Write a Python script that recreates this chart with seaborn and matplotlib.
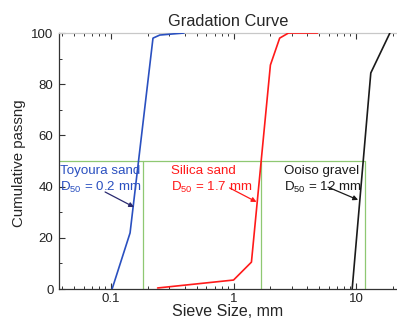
import matplotlib
matplotlib.use("Agg")
import matplotlib.pyplot as plt
import seaborn as sns
import pandas as pd
from matplotlib.ticker import LogLocator, MultipleLocator, FixedLocator, FixedFormatter

# Data
toyoura_size = [0.102, 0.143, 0.22, 0.25, 0.394]
toyoura_pass = [0.0, 21.9, 98.0, 99.2, 100.0]
silica_size = [0.24, 1.0, 1.40, 2.0, 2.38, 2.81, 4.85]
silica_pass = [0.4, 3.5, 10.5, 87.5, 98.0, 100.0, 100.0]
gravel_size = [9.3, 13.2, 18.9]
gravel_pass = [0.0, 84.4, 100.0]
d50_lines = [0.182, 1.69, 11.8]
series_names = ["Toyoura sand", "Silica sand", "Ooiso gravel"]
d50_labels = ["0.2", "1.7", "12"]
colors = ["#2a50c0", "#ff1a1a", "#1a1a1a"]

sns.set_style("ticks")
plt.rcParams["font.family"] = ["Liberation Sans", "DejaVu Sans"]
plt.rcParams["mathtext.default"] = "regular"

df = pd.concat([
    pd.DataFrame({"size": toyoura_size, "pass": toyoura_pass, "soil": series_names[0]}),
    pd.DataFrame({"size": silica_size, "pass": silica_pass, "soil": series_names[1]}),
    pd.DataFrame({"size": gravel_size, "pass": gravel_pass, "soil": series_names[2]}),
])

fig = plt.figure(figsize=(3.97, 3.20), dpi=100)
ax = fig.add_axes([59/397, 1-289/320, 1-59/397, (289-33)/320])
ax.set_xscale("log")
ax.set_xlim(0.0376, 21.6)
ax.set_ylim(0, 100)

# guide lines
green = "#8fc872"
ax.plot([0.0376, d50_lines[2]], [50, 50], color=green, lw=0.9, zorder=1)
for d in d50_lines:
    ax.plot([d, d], [0, 50], color=green, lw=0.9, zorder=1)

sns.lineplot(data=df, x="size", y="pass", hue="soil", palette=colors,
             sort=False, estimator=None, lw=1.2, legend=False, ax=ax, zorder=3)

# labels
text_pos = [(0.0385, 48.6), (0.306, 48.6), (2.56, 48.6)]
arrow_start = [(0.0894, 37.9), (0.927, 39.5), (5.9, 39.8)]
arrow_end = [(0.154, 32.0), (1.54, 34.0), (10.4, 34.8)]
arrow_colors = ["#2a2a70", "#ff1a1a", "#1a1a1a"]
for name, lab, (tx, ty), c, s, e, ac in zip(series_names, d50_labels, text_pos, colors,
                                            arrow_start, arrow_end, arrow_colors):
    ax.text(tx, ty, name + "\nD$_{50}$ = " + lab + " mm", color=c, fontsize=9.6,
            va="top", ha="left", linespacing=1.3)
    ax.annotate("", xy=e, xytext=s,
                arrowprops=dict(arrowstyle="-|>", color=ac, lw=0.9,
                                mutation_scale=7, shrinkA=0, shrinkB=0))

ax.set_title("Gradation Curve", fontsize=11.8, pad=5)
ax.set_xlabel("Sieve Size, mm", fontsize=11.5, labelpad=-1)
ax.set_ylabel("Cumulative passng", fontsize=10.8)
ax.yaxis.set_label_coords(-0.097, 0.49)

ax.xaxis.set_major_locator(FixedLocator([0.1, 1, 10]))
ax.xaxis.set_major_formatter(FixedFormatter(["0.1", "1", "10"]))
ax.xaxis.set_minor_locator(LogLocator(base=10, subs=range(2, 10)))
ax.xaxis.set_minor_formatter(plt.NullFormatter())
ax.yaxis.set_major_locator(MultipleLocator(20))
ax.yaxis.set_minor_locator(MultipleLocator(10))

ax.tick_params(which="both", direction="in", top=True, right=False, labelsize=9.5,
               colors="#333333", labelcolor="#222222")
ax.tick_params(which="major", length=4, width=0.8, pad=4)
ax.tick_params(axis="x", which="major", pad=3)
ax.tick_params(which="minor", length=2.5, width=0.7)

for sp in ["left", "bottom"]:
    ax.spines[sp].set_color("#333333")
    ax.spines[sp].set_linewidth(0.9)
ax.spines["top"].set_color("#c8c8c8")
ax.spines["top"].set_linewidth(0.9)
ax.spines["right"].set_visible(False)
ax.set_facecolor("white")

fig.savefig("out.png", dpi=100)
